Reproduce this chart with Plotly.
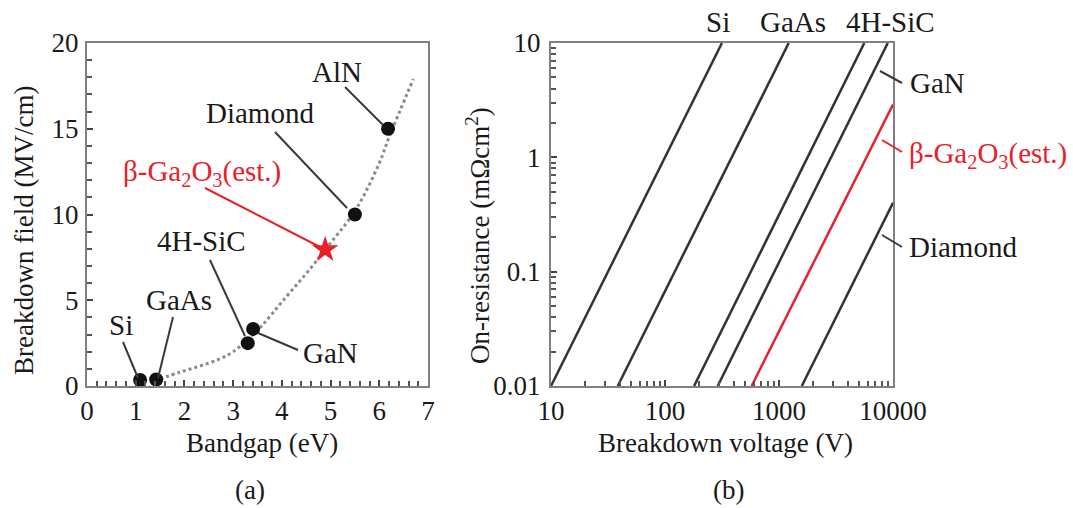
import plotly.graph_objects as go

W, H = 1073, 508

# ---------------- Panel (a) data ----------------
materials_a = ["Si", "GaAs", "4H-SiC", "GaN", "Diamond", "AlN"]
bandgap_a = [1.09, 1.42, 3.3, 3.41, 5.5, 6.18]
field_a = [0.35, 0.38, 2.5, 3.33, 10.0, 15.0]
ga2o3_bandgap = [4.89]
ga2o3_field = [7.95]
trend_bandgap = [1.5, 1.9, 2.3, 2.7, 3.0, 3.35, 3.6, 4.0, 4.6, 4.9, 5.5, 6.0, 6.2, 6.7]
trend_field = [0.42, 0.8, 1.15, 1.55, 2.0, 2.85, 3.55, 4.9, 6.9, 8.0, 10.2, 13.0, 14.5, 17.9]
xticks_a = [0, 1, 2, 3, 4, 5, 6, 7]
yticks_a = [0, 5, 10, 15, 20]

# ---------------- Panel (b) data ----------------
materials_b = ["Si", "GaAs", "4H-SiC", "GaN", "Diamond"]
vbd_b = [[10, 316], [38.5, 1217], [180, 5600], [290, 9000], [1585, 10000]]
ron_b = [[0.01, 10], [0.01, 10], [0.01, 10], [0.01, 10], [0.01, 0.4]]
ga2o3_vbd = [575, 10000]
ga2o3_ron = [0.01, 2.9]
xticks_b = [10, 100, 1000, 10000]
xticklabels_b = ["10", "100", "1000", "10000"]
xminor_b = [20, 30, 40, 50, 60, 70, 80, 90, 200, 300, 400, 500, 600, 700, 800, 900,
            2000, 3000, 4000, 5000, 6000, 7000, 8000, 9000]
yticks_b = [0.01, 0.1, 1, 10]
yticklabels_b = ["0.01", "0.1", "1", "10"]
yminor_b = [0.02, 0.03, 0.04, 0.05, 0.06, 0.07, 0.08, 0.09,
            0.2, 0.3, 0.4, 0.5, 0.6, 0.7, 0.8, 0.9,
            2, 3, 4, 5, 6, 7, 8, 9]

RED = "#e8202a"
DARK = "#333333"
FRAME = "#808080"
FONT = "Liberation Serif"
TXT = "#1a1a1a"


def px(x):
    return x / W


def py(y):
    return 1 - y / H


fig = go.Figure()

# Panel (a)
fig.add_trace(go.Scatter(x=trend_bandgap, y=trend_field, mode="lines",
                         line=dict(color="#8a8a8a", width=3, dash="dot", shape="spline"),
                         xaxis="x", yaxis="y", showlegend=False, hoverinfo="skip"))
fig.add_trace(go.Scatter(x=bandgap_a, y=field_a, mode="markers",
                         marker=dict(color="#111111", size=14),
                         hovertext=materials_a, xaxis="x", yaxis="y", showlegend=False,
                         cliponaxis=False))
fig.add_trace(go.Scatter(x=ga2o3_bandgap, y=ga2o3_field, mode="markers",
                         marker=dict(color=RED, size=20, symbol="star"),
                         xaxis="x", yaxis="y", showlegend=False))

# Panel (b)
for name, v, r in zip(materials_b, vbd_b, ron_b):
    fig.add_trace(go.Scatter(x=v, y=r, mode="lines", name=name,
                             line=dict(color=DARK, width=2.5),
                             xaxis="x2", yaxis="y2", showlegend=False))
fig.add_trace(go.Scatter(x=ga2o3_vbd, y=ga2o3_ron, mode="lines", name="β-Ga2O3",
                         line=dict(color=RED, width=2.5),
                         xaxis="x2", yaxis="y2", showlegend=False))

ydom = [py(386), py(43)]
axis_common = dict(showgrid=False, zeroline=False, showline=True, mirror=True,
                   linecolor=FRAME, linewidth=2, ticks="inside", ticklen=6,
                   tickcolor="#444444", tickwidth=1.5,
                   tickfont=dict(family=FONT, size=27, color=TXT))
minor_common = dict(ticks="inside", ticklen=5, tickcolor="#555555", tickwidth=1.5,
                    showgrid=False)

fig.update_layout(
    width=W, height=H,
    margin=dict(l=0, r=0, t=0, b=0, autoexpand=False),
    paper_bgcolor="white", plot_bgcolor="white",
    font=dict(family=FONT, color=TXT),
    xaxis=dict(domain=[px(87), px(428)], range=[0, 7], tickvals=xticks_a,
               anchor="y", ticklabelstandoff=0, automargin=False,
               minor=dict(dtick=0.2, **minor_common),
               **axis_common),
    yaxis=dict(domain=ydom, range=[0, 20], tickvals=yticks_a, anchor="x",
               ticklabelstandoff=1, automargin=False,
               minor=dict(dtick=1, **minor_common),
               **axis_common),
    xaxis2=dict(domain=[px(551), px(893)], type="log", range=[1, 4],
                tickvals=xticks_b, ticktext=xticklabels_b, anchor="y2",
                ticklabelstandoff=0, automargin=False,
                minor=dict(tickvals=xminor_b, **minor_common),
                **axis_common),
    yaxis2=dict(domain=ydom, type="log", range=[-2, 1],
                tickvals=yticks_b, ticktext=yticklabels_b, anchor="x2",
                ticklabelstandoff=3, automargin=False,
                minor=dict(tickvals=yminor_b, **minor_common),
                **axis_common),
)

annotations = []
shapes = []


def label(text, x, y, size=29, color=TXT, angle=0, xanchor="center"):
    annotations.append(dict(text=text, x=px(x), y=py(y), xref="paper", yref="paper",
                            showarrow=False, xanchor=xanchor, yanchor="middle",
                            textangle=angle,
                            font=dict(family=FONT, size=size, color=color)))


def leader(x0, y0, x1, y1, color="#3a3a3a"):
    shapes.append(dict(type="line", xref="paper", yref="paper",
                       x0=px(x0), y0=py(y0), x1=px(x1), y1=py(y1),
                       line=dict(color=color, width=2)))


# Axis titles and panel labels
label("Breakdown field (MV/cm)", 24, 231, size=27, angle=-90)
label("Bandgap (eV)", 262, 443, size=27)
label("(a)", 250, 490, size=27)
label("On-resistance (mΩcm<sup>2</sup>)", 478, 236, size=27, angle=-90)
label("Breakdown voltage (V)", 725, 443, size=27)
label("(b)", 728, 490, size=27)

# Panel (a) labels
label("Si", 121, 325)
leader(123, 342, 138, 378)
label("GaAs", 179, 300)
leader(173, 317, 158, 378)
label("4H-SiC", 201, 241)
leader(210, 260, 245, 336)
label("GaN", 330, 353)
leader(258, 333, 298, 350)
label("Diamond", 260, 113)
leader(275, 132, 347, 208)
label("AlN", 337, 72)
leader(345, 87, 383, 125)
label("β-Ga<sub>2</sub>O<sub>3</sub>(est.)", 202, 173, color=RED)
leader(205, 188, 320, 247, color=RED)

# Panel (b) labels
label("Si", 718, 22)
label("GaAs", 793, 22)
label("4H-SiC", 890, 22)
label("GaN", 908, 83, xanchor="left")
leader(880, 71, 902, 83)
label("β-Ga<sub>2</sub>O<sub>3</sub>(est.)", 907, 155, color=RED, xanchor="left")
leader(882, 140, 902, 152, color=RED)
label("Diamond", 907, 247, xanchor="left")
leader(882, 235, 902, 247)

fig.update_layout(annotations=annotations, shapes=shapes)

fig.write_html("out.html")
